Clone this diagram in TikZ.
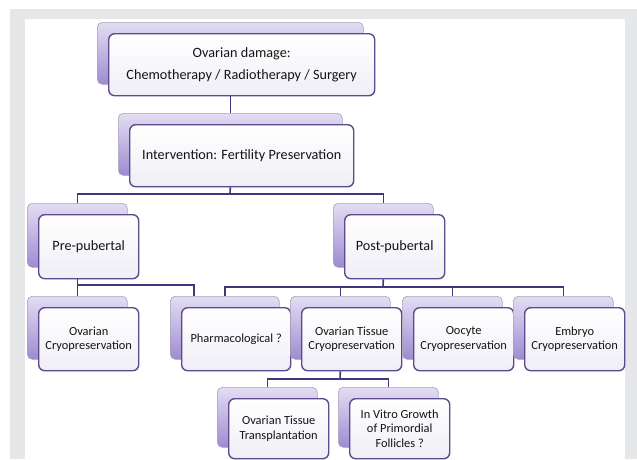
\documentclass[tikz,border=0pt]{standalone}
\usepackage{fontspec}
\setmainfont{Carlito}
\usetikzlibrary{calc}
\definecolor{framegray}{HTML}{E6E7E8}
\definecolor{fborder}{HTML}{5C4A8C}
\definecolor{connc}{HTML}{43357A}
\definecolor{bborder}{HTML}{A8A2B8}
\definecolor{btop}{HTML}{E3DDF3}
\definecolor{bbot}{HTML}{9D8BD0}
\definecolor{fbot}{HTML}{F0EEF6}
\definecolor{txt}{HTML}{141414}
\tikzset{
  backbox/.style={draw=bborder, line width=0.6pt, rounded corners=5pt,
    top color=btop, bottom color=bbot, inner sep=0pt, anchor=north west},
  frontbox/.style={draw=fborder, line width=1.4pt, rounded corners=6pt,
    top color=white, bottom color=fbot, inner sep=0pt, anchor=north west,
    align=center, text=txt, font=\fontsize{12.4}{14.5}\selectfont},
  bigtext/.style={font=\fontsize{14.2}{17}\selectfont},
  conn/.style={draw=connc, line width=1.6pt},
}
\newcommand{\dbox}[7][]{%
  \node[backbox, minimum width=#5pt, minimum height=#6pt] (#2B) at (#3,#4) {};
  \node[frontbox, minimum width=#5pt, minimum height=#6pt, #1] (#2F) at (#3+11,#4+11) {#7};
}
\begin{document}
\begin{tikzpicture}[x=1pt,y=-1pt]
\useasboundingbox (0,0) rectangle (637,459);
\fill[white] (0,0) rectangle (637,459);
\fill[framegray] (10,9) rectangle (637,459);
\fill[white] (25,19) rectangle (625,459);

\coordinate (j1) at (230,194);
\coordinate (j2) at (77,285);
\coordinate (j4) at (383,287);
\coordinate (j5) at (340,379);

\dbox[bigtext]{top}{97}{22}{266}{62}{Ovarian damage:\\[5pt]Chemotherapy / Radiotherapy / Surgery}
\dbox[bigtext]{int}{118}{113}{224}{62}{Intervention: Fertility Preservation}
\dbox[bigtext]{pre}{27}{203}{100}{64}{Pre-pubertal}
\dbox[bigtext]{post}{333}{203}{100}{64}{Post-pubertal}
\dbox{oc}{27}{296}{100}{63}{Ovarian\\Cryopreservation}
\dbox{ph}{170}{296}{109}{63}{Pharmacological ?}
\dbox{otc}{290}{296}{100}{63}{Ovarian Tissue\\Cryopreservation}
\dbox{oo}{402}{296}{100}{63}{Oocyte\\Cryopreservation}
\dbox{emb}{513}{296}{100}{63}{Embryo\\Cryopreservation}
\dbox{tr}{217}{387}{100}{60}{Ovarian Tissue\\Transplantation}
\dbox{iv}{338}{387}{100}{60}{In Vitro Growth\\of Primordial\\Follicles ?}

\draw[conn] (topB |- topF.south) -- (topB |- intB.north);
\draw[conn] (intB |- intF.south) -- (j1);
\draw[conn] (preB.north) |- (j1) -| (postB.north);

\draw[conn] (preB |- preF.south) -- (ocB.north);
\draw[conn] (j2) -| ([xshift=24pt]phB.north west);

\draw[conn] (postB |- postF.south) -- (j4);
\draw[conn] (phB.north) |- (j4) -| (embB.north);
\draw[conn] (otcB.north) -- (otcB.north |- j4);
\draw[conn] (ooB.north) -- (ooB.north |- j4);

\draw[conn] (otcB |- otcF.south) -- (j5);
\draw[conn] (trB.north) |- (j5) -| (ivB.north);
\end{tikzpicture}
\end{document}
